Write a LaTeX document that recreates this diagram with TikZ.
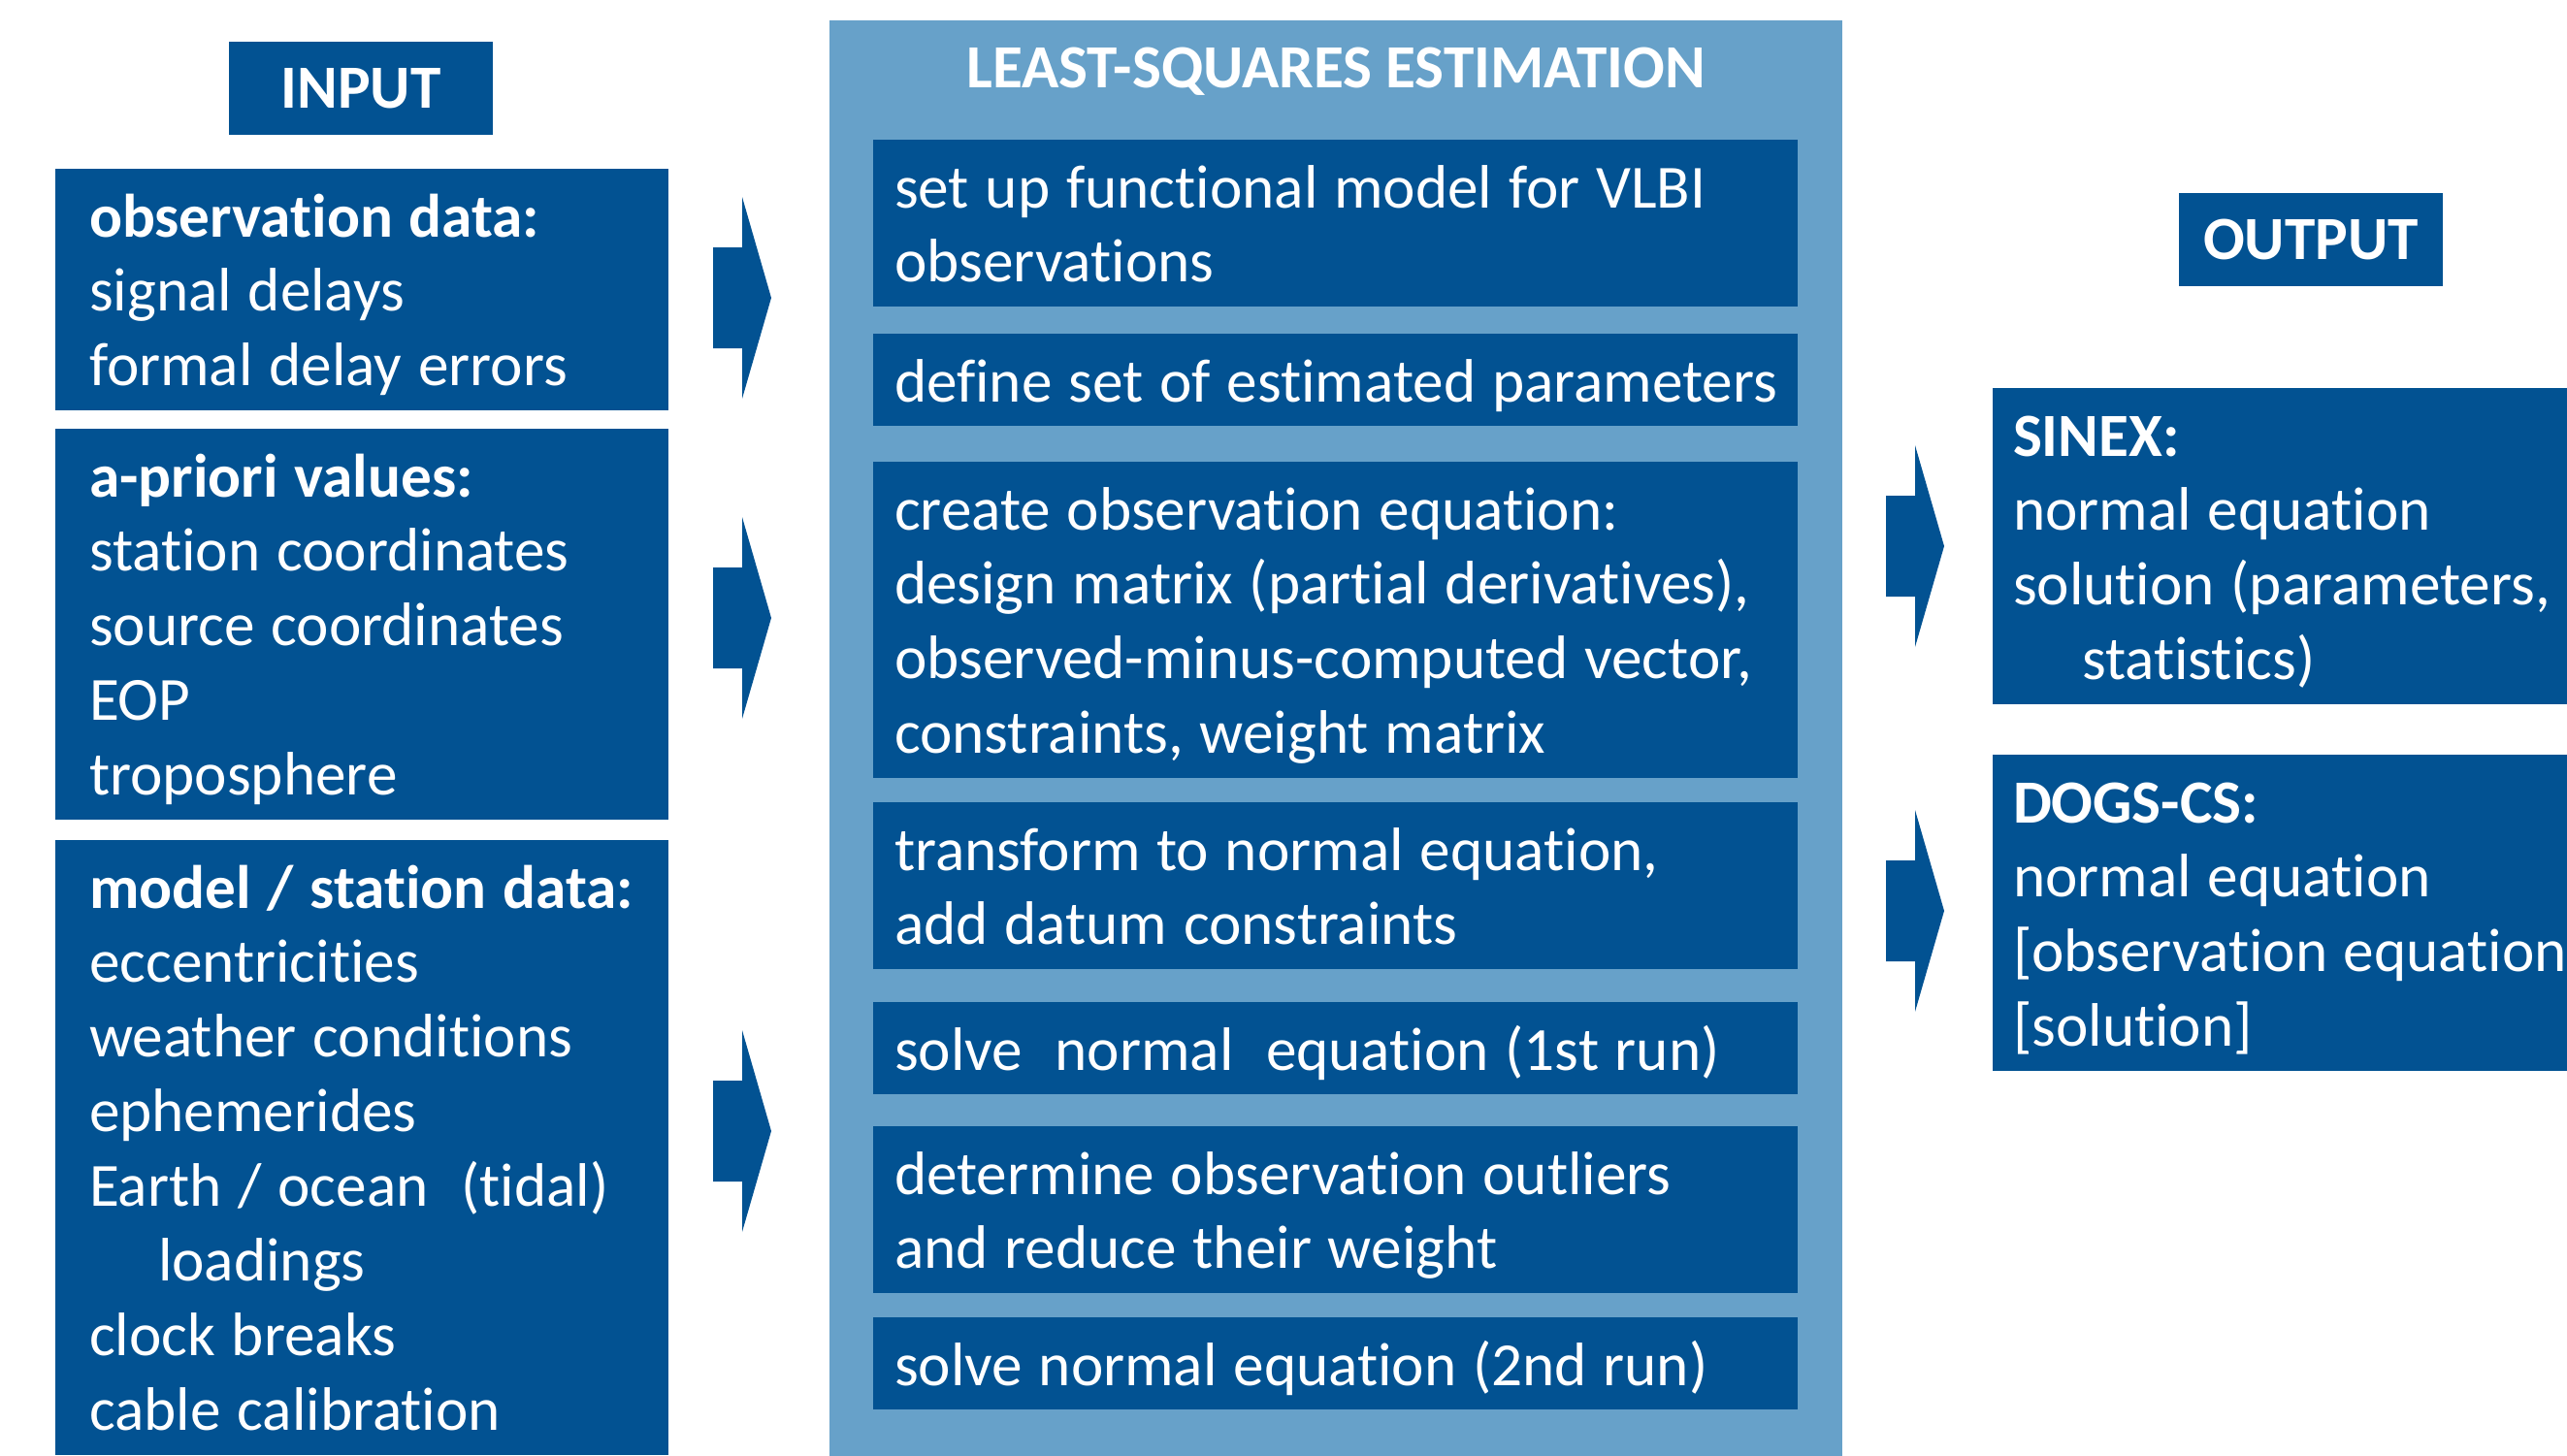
\documentclass[tikz,border=0pt]{standalone}
\usepackage{fontspec}
\setmainfont{Carlito}[Ligatures=NoCommon]
\usetikzlibrary{positioning}
\definecolor{vlbiblue}{RGB}{2,82,146}
\definecolor{panelblue}{RGB}{103,161,201}

\tikzset{
  headbox/.style={fill=vlbiblue, text=white, font=\fontsize{18}{21.9}\selectfont\bfseries,
    minimum width=2.72cm, minimum height=0.96cm, inner sep=0pt, outer sep=0pt},
  databox/.style={fill=vlbiblue, text=white, font=\fontsize{18}{21.9}\selectfont,
    anchor=north west, inner xsep=0pt, inner ysep=0.09cm, outer sep=0pt, text height=0.61cm,
    execute at begin node={\raggedright\leftskip=#1\relax\spaceskip=0.265em\relax
      \hyphenpenalty=10000\relax}},
  inbox/.style={databox=0.35cm, text width=6.32cm},
  stepbox/.style={databox=0.22cm, text width=9.53cm},
  outbox/.style={databox=0.21cm, text width=9.00cm},
  blockarrow/.style={fill=vlbiblue}
}

\begin{document}
\begin{tikzpicture}
    \useasboundingbox (0,0) rectangle (26.46,-15);
    % Estimation panel
    \fill[panelblue] (8.55,-0.21) rectangle (18.99,-15.2);
    \node[text=white, font=\fontsize{18}{21.9}\selectfont\bfseries, anchor=base]
      (lsq) at (13.77,-0.90) {LEAST-SQUARES ESTIMATION};
    % Input
    \node[headbox] (input) at (3.72,-0.91) {INPUT};
    \node[inbox, text depth=1.70cm] (obs) at (0.57,-1.74)
      {\textbf{observation data:}\\signal delays\\formal delay errors};
    \node[inbox, text depth=3.24cm] (apriori) at (0.57,-4.42)
      {\textbf{a-priori values:}\\station coordinates\\source coordinates\\EOP\\troposphere};
    \node[inbox, text depth=5.55cm] (model) at (0.57,-8.66)
      {\textbf{model / station data:}\\eccentricities\\weather conditions\\ephemerides\\
       Earth / ocean\ \ (tidal)\\\hspace*{0.71cm}loadings\\clock breaks\\cable calibration};
    % Steps
    \node[stepbox, text depth=0.93cm] (model fn) at (9.00,-1.44)
      {set up functional model for VLBI\\observations};
    \node[stepbox, text depth=0.16cm] (params) at (9.00,-3.44)
      {define set of estimated parameters};
    \node[stepbox, text depth=2.47cm] (obs eq) at (9.00,-4.76)
      {create observation equation:\\design matrix (partial derivatives),\\
       observed-minus-computed vector,\\constraints, weight matrix};
    \node[stepbox, text depth=0.93cm] (normal eq) at (9.00,-8.27)
      {transform to normal equation,\\add datum constraints};
    \node[stepbox, text depth=0.16cm] (solve1) at (9.00,-10.33)
      {solve\ \ normal\ \ equation (1st run)};
    \node[stepbox, text depth=0.93cm] (outliers) at (9.00,-11.61)
      {determine observation outliers\\and reduce their weight};
    \node[stepbox, text depth=0.16cm] (solve2) at (9.00,-13.58)
      {solve normal equation (2nd run)};
    % Output
    \node[headbox] (output) at (23.82,-2.47) {OUTPUT};
    \node[outbox, text depth=2.47cm] (sinex) at (20.54,-4.00)
      {\textbf{SINEX:}\\normal equation\\solution (parameters,\\\hspace*{0.71cm}statistics)};
    \node[outbox, text depth=2.47cm] (dogs) at (20.54,-7.78)
      {\textbf{DOGS-CS:}\\normal equation\\{[}observation equation{]}\\{[}solution{]}};
    % Arrows
    \fill[blockarrow, shift={(7.35,-3.07)}] (0,0.52) -- (0.30,0.52) -- (0.30,1.04)
      -- (0.60,0) -- (0.30,-1.04) -- (0.30,-0.52) -- (0,-0.52) -- cycle;
    \fill[blockarrow, shift={(7.35,-6.37)}] (0,0.52) -- (0.30,0.52) -- (0.30,1.04)
      -- (0.60,0) -- (0.30,-1.04) -- (0.30,-0.52) -- (0,-0.52) -- cycle;
    \fill[blockarrow, shift={(7.35,-11.66)}] (0,0.52) -- (0.30,0.52) -- (0.30,1.04)
      -- (0.60,0) -- (0.30,-1.04) -- (0.30,-0.52) -- (0,-0.52) -- cycle;
    \fill[blockarrow, shift={(19.44,-5.63)}] (0,0.52) -- (0.30,0.52) -- (0.30,1.04)
      -- (0.60,0) -- (0.30,-1.04) -- (0.30,-0.52) -- (0,-0.52) -- cycle;
    \fill[blockarrow, shift={(19.44,-9.39)}] (0,0.52) -- (0.30,0.52) -- (0.30,1.04)
      -- (0.60,0) -- (0.30,-1.04) -- (0.30,-0.52) -- (0,-0.52) -- cycle;
\end{tikzpicture}
\end{document}
